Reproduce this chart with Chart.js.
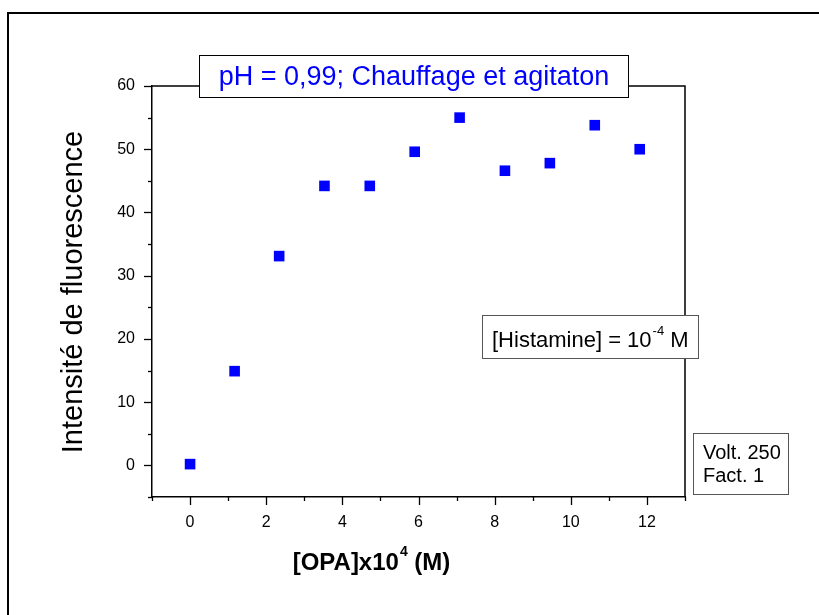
<!DOCTYPE html>
<html>
<head>
<meta charset="utf-8">
<script src="https://cdn.jsdelivr.net/npm/chart.js@4.4.1/dist/chart.umd.min.js"></script>
<style>
  html, body { margin: 0; padding: 0; background: #fff; }
  #wrap { width: 819px; height: 615px; position: relative; }
</style>
</head>
<body>
<div id="wrap"><canvas id="c" width="819" height="615"></canvas></div>
<script>
// ---- data ----
const opaValues = [0, 1.17, 2.34, 3.53, 4.72, 5.90, 7.08, 8.27, 9.45, 10.63, 11.81];
const intensityValues = [0.2, 14.9, 33.1, 44.2, 44.2, 49.6, 55.0, 46.6, 47.8, 53.8, 50.0];
const xTickLabels = [0, 2, 4, 6, 8, 10, 12];
const yTickLabels = [0, 10, 20, 30, 40, 50, 60];
const titleText = 'pH = 0,99; Chauffage et agitaton';
const yTitleText = 'Intensité de fluorescence';
const xTitleParts = ['[OPA]x10', '4', ' (M)'];
const histParts = ['[Histamine] = 10', '-4', ' M'];
const voltLines = ['Volt. 250', 'Fact. 1'];

const FONT = '"Liberation Sans", Arial, Helvetica, sans-serif';
const BLUE = '#0000FF';

const points = opaValues.map((x, i) => ({ x: x, y: intensityValues[i] }));

const decor = {
  id: 'decor',
  beforeDraw(chart) {
    const ctx = chart.ctx;
    ctx.save();
    ctx.fillStyle = '#fff';
    ctx.fillRect(0, 0, chart.width, chart.height);
    // outer frame
    ctx.strokeStyle = '#000';
    ctx.lineWidth = 2;
    ctx.beginPath();
    ctx.moveTo(8, 700);
    ctx.lineTo(8, 13);
    ctx.lineTo(900, 13);
    ctx.stroke();
    ctx.restore();
  },
  afterDraw(chart) {
    const ctx = chart.ctx;
    const a = chart.chartArea;
    const xs = chart.scales.x, ys = chart.scales.y;
    ctx.save();
    ctx.strokeStyle = '#000';
    ctx.lineWidth = 1.5;
    // top and right frame lines
    ctx.beginPath();
    ctx.moveTo(a.left, a.top);
    ctx.lineTo(a.right, a.top);
    ctx.lineTo(a.right, a.bottom);
    ctx.stroke();
    // x ticks
    ctx.lineWidth = 1.3;
    for (let v = xs.min; v <= xs.max; v += 1) {
      const px = Math.round(xs.getPixelForValue(v)) + 0.5;
      const len = (v % 2 === 0) ? 8 : 4;
      ctx.beginPath();
      ctx.moveTo(px, a.bottom);
      ctx.lineTo(px, a.bottom + len);
      ctx.stroke();
    }
    // y ticks
    for (let v = ys.min; v <= ys.max; v += 5) {
      const py = Math.round(ys.getPixelForValue(v)) + 0.5;
      const len = (v % 10 === 0) ? 8 : 4;
      ctx.beginPath();
      ctx.moveTo(a.left, py);
      ctx.lineTo(a.left - len, py);
      ctx.stroke();
    }

    // title box
    ctx.fillStyle = '#fff';
    ctx.strokeStyle = '#000';
    ctx.lineWidth = 1;
    ctx.fillRect(199, 55, 429, 42);
    ctx.strokeRect(199.5, 55.5, 429, 42);
    ctx.fillStyle = BLUE;
    ctx.font = '27px ' + FONT;
    ctx.textAlign = 'center';
    ctx.textBaseline = 'alphabetic';
    ctx.fillText(titleText, 414, 85);

    // histamine box
    ctx.fillStyle = '#fff';
    ctx.strokeStyle = '#555';
    ctx.fillRect(482, 315, 216, 43);
    ctx.strokeRect(482.5, 315.5, 216, 43);
    ctx.fillStyle = '#000';
    ctx.textAlign = 'left';
    let x = 492;
    ctx.font = '22px ' + FONT;
    ctx.fillText(histParts[0], x, 347);
    x += ctx.measureText(histParts[0]).width + 1;
    ctx.font = '13px ' + FONT;
    ctx.fillText(histParts[1], x, 335);
    x += ctx.measureText(histParts[1]).width;
    ctx.font = '22px ' + FONT;
    ctx.fillText(histParts[2], x, 347);

    // volt box
    ctx.fillStyle = '#fff';
    ctx.strokeStyle = '#555';
    ctx.fillRect(693, 433, 95, 61);
    ctx.strokeRect(693.5, 433.5, 95, 61);
    ctx.fillStyle = '#000';
    ctx.font = '20px ' + FONT;
    ctx.fillText(voltLines[0], 703, 459);
    ctx.fillText(voltLines[1], 703, 482);

    // x title
    ctx.font = 'bold 24px ' + FONT;
    const w0 = ctx.measureText(xTitleParts[0]).width;
    ctx.font = 'bold 14px ' + FONT;
    const w1 = ctx.measureText(xTitleParts[1]).width;
    ctx.font = 'bold 24px ' + FONT;
    const w2 = ctx.measureText(xTitleParts[2]).width;
    let tx = 371 - (w0 + w1 + w2) / 2;
    ctx.fillText(xTitleParts[0], tx, 570);
    tx += w0 + 1;
    ctx.font = 'bold 14px ' + FONT;
    ctx.fillText(xTitleParts[1], tx, 556);
    tx += w1;
    ctx.font = 'bold 24px ' + FONT;
    ctx.fillText(xTitleParts[2], tx, 570);

    // y title
    ctx.save();
    ctx.translate(82, 292);
    ctx.rotate(-Math.PI / 2);
    ctx.textAlign = 'center';
    ctx.font = '29px ' + FONT;
    ctx.fillText(yTitleText, 0, 0);
    ctx.restore();

    ctx.restore();
  }
};

new Chart(document.getElementById('c'), {
  type: 'scatter',
  data: {
    datasets: [{
      data: points,
      pointStyle: 'rect',
      pointRadius: 7.5,
      pointHoverRadius: 7.5,
      backgroundColor: BLUE,
      borderColor: BLUE,
      borderWidth: 0
    }]
  },
  options: {
    responsive: false,
    animation: false,
    events: [],
    layout: { padding: { top: 86, right: 134, left: 0, bottom: 0 } },
    plugins: { legend: { display: false }, tooltip: { enabled: false } },
    scales: {
      x: {
        type: 'linear',
        min: -1, max: 13,
        afterFit: s => { s.height = 118; },
        grid: { display: false },
        border: { display: true, color: '#000', width: 1.5 },
        ticks: {
          stepSize: 1, autoSkip: false, maxRotation: 0, padding: 8,
          color: '#000', font: { family: FONT, size: 16 },
          callback: v => xTickLabels.includes(v) ? String(v) : ''
        }
      },
      y: {
        type: 'linear',
        min: -5, max: 60,
        afterFit: s => { s.width = 152; },
        grid: { display: false },
        border: { display: true, color: '#000', width: 1.5 },
        ticks: {
          stepSize: 5, autoSkip: false, padding: 9,
          color: '#000', font: { family: FONT, size: 16 },
          callback: v => yTickLabels.includes(v) ? String(v) : ''
        }
      }
    }
  },
  plugins: [decor]
});
</script>
</body>
</html>
